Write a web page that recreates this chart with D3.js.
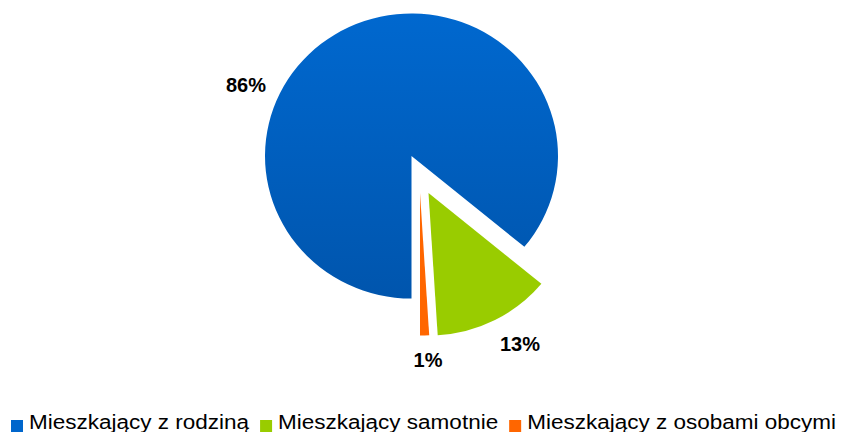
<!DOCTYPE html>
<html>
<head>
<meta charset="utf-8">
<script src="https://cdn.jsdelivr.net/npm/d3@7"></script>
<style>
  body { margin: 0; background: #fff; }
  svg { display: block; font-family: Arial, "Liberation Sans", sans-serif; }
</style>
</head>
<body>
<div id="chart"></div>
<script>
// data
var categories = ["Mieszkający z rodziną", "Mieszkający samotnie", "Mieszkający z osobami obcymi"];
var values = [86, 13, 1];
var labels = ["86%", "13%", "1%"];
var colors = ["#0066cc", "#99cc00", "#ff6600"];

var width = 846, height = 432;

// pie geometry
var cx = 411.5, cy = 156, radius = 146.5, yScale = 0.973;
// explode offsets for the detached slices
var explode = [[0, 0], [17, 37], [8.5, 37]];
// label offsets from the pie centre
var labelOffset = [[-165.5, -64], [108.5, 195], [16.5, 211]];

var svg = d3.select("#chart").append("svg")
    .attr("width", width)
    .attr("height", height);

var defs = svg.append("defs");
var grad = defs.append("linearGradient")
    .attr("id", "blueGrad")
    .attr("gradientUnits", "userSpaceOnUse")
    .attr("x1", 0).attr("y1", -radius)
    .attr("x2", 0).attr("y2", radius);
grad.append("stop").attr("offset", "0%").attr("stop-color", "#0068cf");
grad.append("stop").attr("offset", "100%").attr("stop-color", "#0055ad");

var pie = d3.pie()
    .sort(null)
    .startAngle(Math.PI)
    .endAngle(3 * Math.PI)
    .value(function (d) { return d; });

var arc = d3.arc().innerRadius(0).outerRadius(radius);

var arcs = pie(values);

var pieG = svg.append("g")
    .attr("transform", "translate(" + cx + "," + cy + ") scale(1," + yScale + ")");

pieG.selectAll("path")
    .data(arcs)
    .enter()
    .append("path")
    .attr("d", arc)
    .attr("transform", function (d, i) {
        return "translate(" + explode[i][0] + "," + (explode[i][1] / yScale) + ")";
    })
    .style("fill", function (d, i) { return i == 0 ? "url(#blueGrad)" : colors[i]; });

// percentage labels
svg.append("g").selectAll("text")
    .data(labels)
    .enter()
    .append("text")
    .attr("x", function (d, i) { return cx + labelOffset[i][0]; })
    .attr("y", function (d, i) { return cy + labelOffset[i][1]; })
    .attr("text-anchor", "middle")
    .style("font-size", "20px")
    .style("font-weight", "bold")
    .style("fill", "#000")
    .text(function (d) { return d; });

// legend
var legendX = 11, legendBase = 429, box = 12, stretch = 1.125;
var legend = svg.append("g").attr("class", "legend");
var xPos = legendX;
categories.forEach(function (c, i) {
    legend.append("rect")
        .attr("x", xPos)
        .attr("y", legendBase - 9)
        .attr("width", box)
        .attr("height", box)
        .style("fill", colors[i]);
    var t = legend.append("text")
        .attr("x", xPos + box + 6)
        .attr("y", legendBase)
        .style("font-size", "20px")
        .style("fill", "#000")
        .text(c);
    var w = t.node().getComputedTextLength() * stretch;
    t.attr("textLength", w).attr("lengthAdjust", "spacingAndGlyphs");
    xPos += box + 6 + w + 11;
});
</script>
</body>
</html>
